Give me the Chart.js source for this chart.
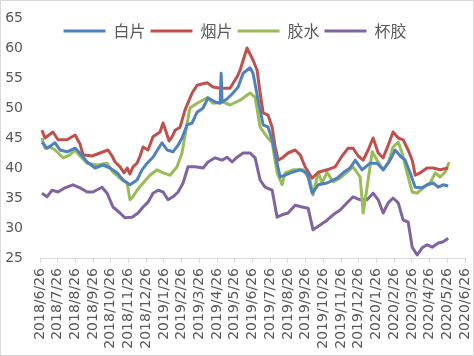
<!DOCTYPE html>
<html>
<head>
<meta charset="utf-8">
<script src="https://cdn.jsdelivr.net/npm/chart.js@4"></script>
<style>
html,body{margin:0;padding:0;background:#fff;}
#wrap{width:474px;height:356px;box-sizing:border-box;border:1px solid #d9d9d9;position:relative;}
canvas{display:block;}
</style>
</head>
<body>
<div id="wrap"><canvas id="c" width="472" height="354"></canvas></div>
<script>
// Tick labels (monthly)
const tickLabels = ["2018/6/26","2018/7/26","2018/8/26","2018/9/26","2018/10/26","2018/11/26","2018/12/26",
  "2019/1/26","2019/2/26","2019/3/26","2019/4/26","2019/5/26","2019/6/26","2019/7/26","2019/8/26",
  "2019/9/26","2019/10/26","2019/11/26","2019/12/26","2020/1/26","2020/2/26","2020/3/26","2020/4/26",
  "2020/5/26","2020/6/26"];
const seriesNames = ["白片","烟片","胶水","杯胶"];

// x positions in months since 2018/6/26
const baipianX = [0.11,0.40,0.85,1.13,1.53,1.98,2.26,2.66,3.11,3.56,3.95,4.35,4.69,5.08,5.48,5.76,6.05,6.38,6.89,7.18,7.51,7.80,8.02,8.31,8.59,8.87,9.21,9.49,9.89,10.17,10.23,10.28,10.56,10.90,11.19,11.47,11.86,12.03,12.32,12.60,12.88,13.11,13.39,13.56,13.84,14.24,14.69,15.08,15.37,15.71,16.21,16.78,17.12,17.51,17.80,18.19,18.64,19.04,19.38,19.77,20.06,20.34,20.62,20.90,21.19,21.58,21.86,22.20,22.49,22.77,23.05];
const baipianY = [44.3,43.3,44.2,43.0,42.7,43.3,42.5,41.0,40.0,40.5,40.0,39.2,38.0,37.2,38.0,39.7,40.8,41.8,44.2,43.0,42.7,43.8,45.0,47.2,47.5,49.3,50.0,51.7,51.0,50.8,55.8,51.0,51.5,52.5,53.5,55.8,56.7,55.8,51.3,47.2,46.8,44.7,40.8,38.5,38.8,39.3,39.7,39.2,35.8,37.2,37.5,38.3,39.2,40.0,41.3,39.7,40.8,40.8,39.7,41.3,43.0,42.0,41.3,39.2,36.8,36.7,37.2,37.5,36.8,37.2,37.0];

const yanpianX = [0.11,0.28,0.73,1.02,1.53,1.98,2.26,2.43,2.94,3.39,3.84,4.07,4.24,4.52,4.75,4.92,5.08,5.25,5.48,5.65,5.82,6.10,6.38,6.78,6.95,7.18,7.29,7.46,7.63,7.91,8.19,8.59,8.87,9.44,9.77,10.17,10.73,11.13,11.30,11.53,11.69,11.86,12.03,12.26,12.43,12.60,12.88,13.11,13.28,13.45,13.73,14.01,14.41,14.69,14.97,15.37,15.71,16.21,16.67,17.06,17.40,17.68,17.97,18.25,18.53,18.81,19.10,19.38,19.66,19.94,20.23,20.51,20.79,21.02,21.19,21.47,21.86,22.20,22.60,23.05];
const yanpianY = [46.3,45.0,46.0,44.7,44.7,45.5,44.0,42.2,42.0,42.5,43.0,42.0,41.0,40.2,39.2,40.0,39.0,40.2,40.8,42.0,43.5,43.0,45.2,46.0,47.5,45.5,44.5,45.2,46.3,46.8,49.7,52.5,53.8,54.2,53.5,53.3,53.3,55.2,56.3,58.5,60.0,59.0,58.0,56.3,52.5,49.2,48.8,46.8,43.5,41.3,41.8,42.5,43.0,42.2,40.2,38.3,39.3,39.7,40.2,42.0,43.3,43.3,42.0,41.3,43.0,45.0,42.5,41.7,43.8,46.0,45.0,44.7,43.0,41.3,38.8,39.2,40.0,40.0,39.7,40.0];

const jiaoshuiX = [0.11,0.28,0.56,0.85,1.30,1.69,1.98,2.26,2.66,3.22,3.79,4.12,4.52,4.92,5.08,5.25,5.48,5.82,6.21,6.61,6.95,7.34,7.74,8.02,8.31,8.47,8.87,9.44,9.77,10.34,10.73,11.30,11.86,12.15,12.43,12.82,13.11,13.39,13.67,13.84,14.29,14.86,15.25,15.42,15.71,15.93,16.21,16.55,16.95,17.34,17.68,18.08,18.25,18.47,18.76,19.04,19.38,19.66,19.94,20.23,20.45,20.73,21.02,21.30,21.64,22.03,22.32,22.60,22.88,23.11];
const jiaoshuiY = [45.0,43.3,43.5,43.0,41.7,42.2,43.0,42.0,40.8,40.5,40.8,39.3,38.3,37.5,34.7,35.2,36.3,37.5,38.8,39.7,39.2,38.8,40.2,42.5,47.5,50.0,50.8,51.7,50.8,51.0,50.5,51.3,52.5,51.8,46.8,45.2,44.2,39.2,37.2,39.2,39.7,39.7,38.0,35.5,39.3,37.5,39.3,37.7,38.3,39.3,40.2,38.5,32.5,36.8,42.7,41.3,39.7,40.8,43.5,44.3,42.5,39.2,36.0,35.8,36.7,37.5,39.2,38.5,39.3,41.0];

const beijiaoX = [0.11,0.40,0.68,1.02,1.41,1.86,2.26,2.66,2.99,3.50,3.79,4.12,4.52,4.80,5.20,5.54,5.82,6.10,6.38,6.67,6.95,7.23,7.51,7.80,8.08,8.36,8.76,9.21,9.49,9.89,10.28,10.56,10.85,11.13,11.47,11.86,12.15,12.43,12.71,13.11,13.39,13.67,14.01,14.41,14.80,15.14,15.42,15.82,16.21,16.55,16.95,17.34,17.68,18.08,18.47,18.81,19.10,19.38,19.66,19.94,20.23,20.51,20.79,21.02,21.30,21.58,21.86,22.15,22.49,22.77,23.05];
const beijiaoY = [35.8,35.2,36.3,36.0,36.7,37.2,36.7,36.0,36.0,36.8,35.8,33.5,32.5,31.7,31.8,32.5,33.5,34.3,35.8,36.3,36.0,34.7,35.2,36.0,37.5,40.2,40.2,40.0,41.0,41.7,41.3,41.8,41.0,41.8,42.5,42.5,41.7,38.0,36.8,36.3,31.8,32.2,32.5,33.8,33.5,33.3,29.7,30.5,31.3,32.2,33.0,34.2,35.2,34.7,34.7,35.8,34.7,32.5,34.2,35.0,34.2,31.3,31.0,26.8,25.5,26.7,27.2,26.8,27.5,27.7,28.3];

const colors = ["#4F81BD","#C0504D","#9BBB59","#8064A2"];

function pts(xs, ys){ return xs.map((x,i)=>({x:x, y:ys[i]})); }

const datasets = [
  [baipianX, baipianY], [yanpianX, yanpianY], [jiaoshuiX, jiaoshuiY], [beijiaoX, beijiaoY]
].map((s,i)=>({
  label: seriesNames[i],
  data: pts(s[0], s[1]),
  borderColor: colors[i],
  backgroundColor: colors[i],
  borderWidth: 3,
  pointRadius: 0,
  tension: 0,
  borderJoinStyle: 'round'
}));

const textColor = '#595959';
const tickFont = '"DejaVu Sans", sans-serif';

// Legend overlays the top of the plot area (as in the reference):
// it takes no layout space, then gets its real height back for drawing.
const overlayLegend = {
  id: 'overlayLegend',
  afterInit(chart){
    const lg = chart.legend;
    if (!lg) return;
    const origFit = lg.fit.bind(lg);
    lg.fit = function(){ origFit(); this._realHeight = this.height; this.height = 0; };
  },
  afterLayout(chart){
    const lg = chart.legend;
    if (!lg || lg._realHeight == null) return;
    lg.height = lg._realHeight;
    lg.bottom = lg.top + lg._realHeight;
  }
};

const chart = new Chart(document.getElementById('c'), {
  type: 'line',
  data: { datasets },
  plugins: [overlayLegend],
  options: {
    responsive: false,
    animation: false,
    layout: { padding: { left: 4, right: 8, top: 17, bottom: 0 } },
    plugins: {
      legend: {
        position: 'top',
        align: 'center',
        labels: {
          color: textColor,
          font: { family: '"Noto Sans CJK SC", sans-serif', size: 16 },
          usePointStyle: true,
          pointStyle: 'line',
          pointStyleWidth: 42,
          boxHeight: 3,
          padding: 5
        }
      },
      tooltip: { enabled: false }
    },
    scales: {
      x: {
        type: 'linear',
        min: 0, max: 24,
        grid: { drawOnChartArea: false, drawTicks: true, tickLength: 5, color: '#d9d9d9' },
        border: { display: true, color: '#d9d9d9', width: 1 },
        ticks: {
          stepSize: 1,
          autoSkip: false,
          maxRotation: 90, minRotation: 90,
          padding: 5,
          color: textColor,
          font: { family: tickFont, size: 14 },
          callback: (v) => tickLabels[v]
        },
        afterCalculateLabelRotation: (s) => { s.labelRotation = 90; },
        afterFit: (s) => { s.height = 97; s.paddingLeft = 0; s.paddingRight = 0; }
      },
      y: {
        min: 25, max: 65,
        grid: { display: false, drawTicks: false },
        border: { display: false },
        ticks: {
          stepSize: 5,
          padding: 17,
          color: textColor,
          font: { family: tickFont, size: 14 }
        },
        afterFit: (s) => { s.width = 35; s.paddingTop = 0; s.paddingBottom = 0; }
      }
    }
  }
});
</script>
</body>
</html>
